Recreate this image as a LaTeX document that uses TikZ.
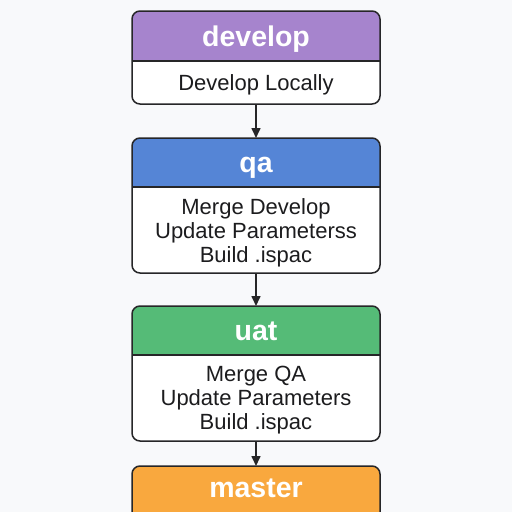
\documentclass[tikz,border=0pt]{standalone}
\usepackage{fontspec}
\setmainfont{Liberation Sans}
\usetikzlibrary{arrows.meta,calc}
\definecolor{bgc}{RGB}{248,249,251}
\definecolor{devc}{RGB}{166,132,205}
\definecolor{qac}{RGB}{85,133,214}
\definecolor{uatc}{RGB}{85,187,119}
\definecolor{masc}{RGB}{249,168,62}
\definecolor{linec}{RGB}{38,38,40}
\definecolor{txtc}{RGB}{28,28,30}

% A stage card: rounded box with a coloured title band on top
% #1 name, #2 top, #3 bottom, #4 bottom of the title band, #5 band colour
\newcommand\stagecard[5]{%
  \node[cardshape, minimum height={#3-#2}] (#1) at (256,{(#2+#3)/2}) {};
  \begin{scope}
    \clip[rounded corners=8pt] (#1.north west) rectangle (#1.south east);
    \fill[#5] (#1.north west) rectangle ($(#1.north east)+(0,{#4-#2})$);
  \end{scope}
  \draw[cardline] ($(#1.north west)+(0,{#4-#2})$) -- ($(#1.north east)+(0,{#4-#2})$);
  \draw[cardline, rounded corners=8pt] (#1.north west) rectangle (#1.south east);
}

\begin{document}
\begin{tikzpicture}[x=1pt,y=-1pt,
  cardshape/.style={rectangle, fill=white, minimum width=248pt, inner sep=0pt, outer sep=0pt, rounded corners=8pt},
  cardline/.style={draw=linec, line width=1.5pt},
  title/.style={font=\bfseries\fontsize{28.5}{30}\selectfont, text=white, inner sep=0pt, anchor=base},
  % anchor base sits on the baseline of the last line
  bodytext/.style={font=\fontsize{22}{24}\selectfont, text=txtc, align=center, inner sep=0pt, anchor=base},
  flow/.style={draw=linec, line width=1.6pt, -{Triangle[length=10pt,width=9pt]}}]
\useasboundingbox[fill=bgc] (0,0) rectangle (512,512);

\stagecard{dev}{11}{104}{61}{devc}
\stagecard{qa}{138}{273}{187}{qac}
\stagecard{uat}{306}{441}{355}{uatc}
\stagecard{mas}{466}{580}{516}{masc}

\node[title] (devt) at (256,46.5) {develop};
\node[bodytext] (devb) at (256,90.5) {Develop Locally};

\node[title] (qat) at (256,172.5) {qa};
\node[bodytext] (qab) at (256,262) {Merge Develop\\Update Parameterss\\Build .ispac};

\node[title] (uatt) at (256,340) {uat};
\node[bodytext] (uatb) at (256,429.5) {Merge QA\\Update Parameters\\Build .ispac};

\node[title] (mast) at (256,497) {master};

\draw[flow] (dev) -- (qa);
\draw[flow] (qa) -- (uat);
\draw[flow] (uat) -- (mas);
\end{tikzpicture}
\end{document}
